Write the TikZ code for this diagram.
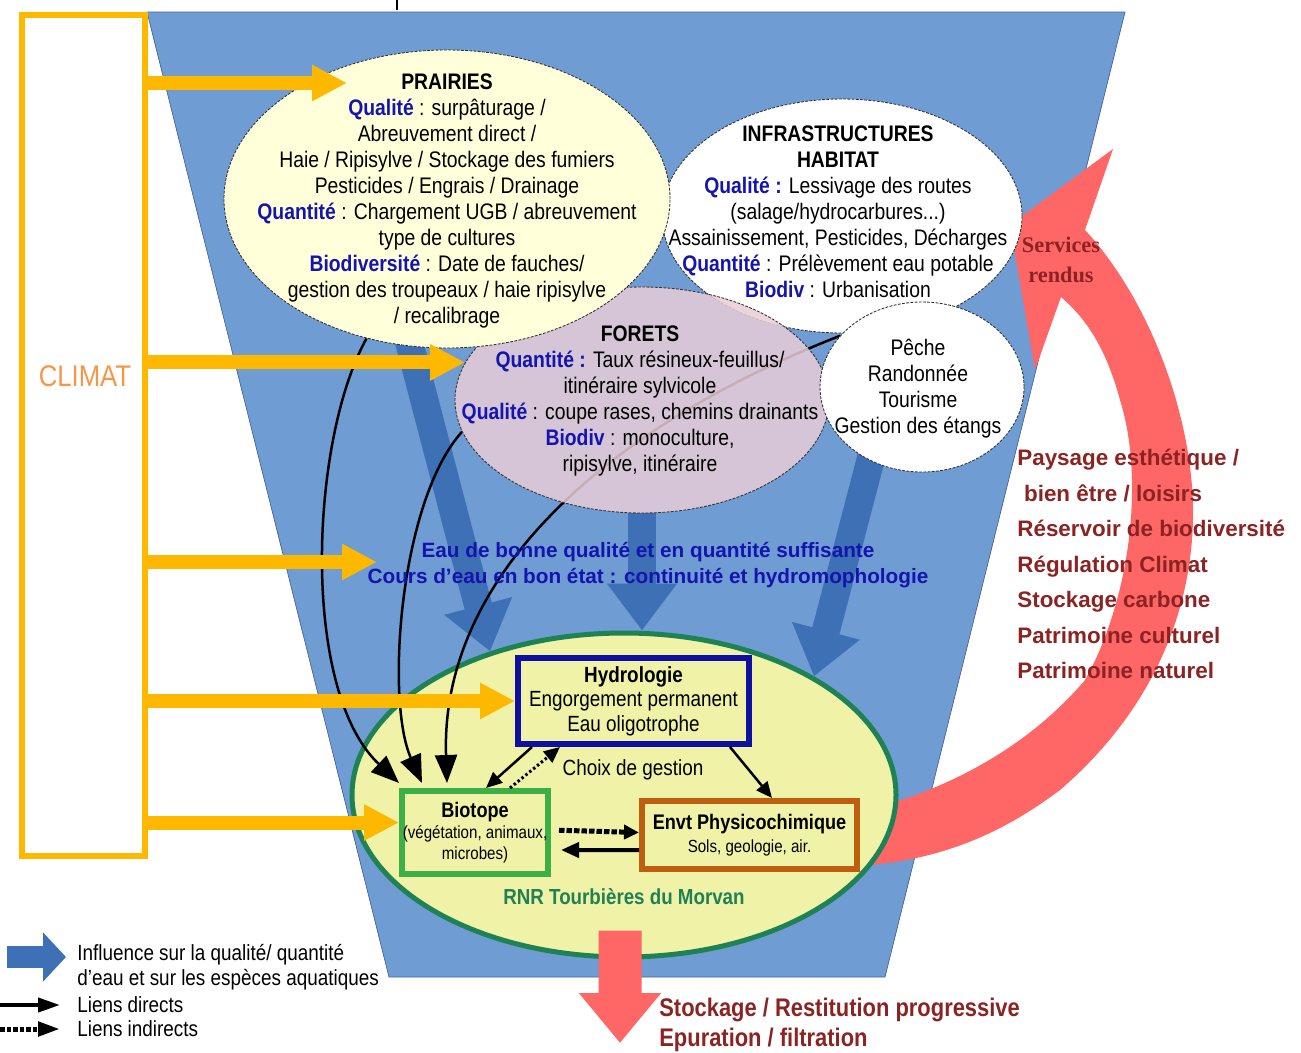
\documentclass[tikz,border=0pt]{standalone}
\usepackage{fontspec}
\setmainfont{Liberation Sans}[FakeStretch=0.86]
\newfontfamily\widesans{Liberation Sans}
\newfontfamily\servfont{Liberation Serif}
\usetikzlibrary{shapes.geometric,arrows.meta}

\pgfdeclarelayer{funnel}
\pgfdeclarelayer{flows}
\pgfdeclarelayer{basin}
\pgfdeclarelayer{links}
\pgfsetlayers{funnel,flows,basin,links,main}

\definecolor{funnel}{RGB}{111,156,210}
\definecolor{funnelline}{RGB}{70,100,150}
\definecolor{flow}{RGB}{62,112,182}
\definecolor{climat}{RGB}{255,184,0}
\definecolor{climattxt}{RGB}{247,150,70}
\definecolor{lab}{RGB}{20,20,175}
\definecolor{serv}{RGB}{255,102,102}
\definecolor{servtxt}{RGB}{140,35,35}
\definecolor{prairie}{RGB}{255,255,218}
\definecolor{foret}{RGB}{232,205,215}
\definecolor{tourbe}{RGB}{240,242,168}
\definecolor{tourbeline}{RGB}{30,130,85}
\definecolor{hydro}{RGB}{15,15,160}
\definecolor{bio}{RGB}{60,175,70}
\definecolor{envt}{RGB}{190,95,15}

\newcommand{\lbl}[1]{\textbf{\color{lab}#1}}

\begin{document}
\begin{tikzpicture}[x=0.2mm,y=-0.2mm,
  font=\fontsize{12.8}{14.8}\selectfont,
  zone/.style={ellipse,draw=black!80,line width=0.5pt,dash pattern=on 1.6pt off 0.8pt,inner sep=0pt},
  txt/.style={align=center,inner sep=0pt},
  box/.style={rectangle,fill=tourbe,line width=1.2mm,inner sep=0pt,align=center},
  climatarrow/.style={climat,line width=2.8mm,-{Triangle[width=6.8mm,length=7mm]}},
  flowarrow/.style={flow,line width=5.6mm,-{Triangle[width=13.4mm,length=9.4mm]}},
  feed/.style={line width=0.5mm,-{Triangle[width=4.4mm,length=5.6mm]}},
  link/.style={line width=0.5mm,-{Triangle[width=2.8mm,length=3.2mm]}},
  dotlink/.style={line width=0.6mm,dash pattern=on 0.5mm off 0.5mm,-{Triangle[width=2.8mm,length=3.2mm]}}]
  \useasboundingbox (0,0) rectangle (1301,1052);

  % pressures on the catchment
  \node[zone,fill=white,minimum width=72mm,minimum height=46.8mm] (infra) at (842,216) {};
  \node[txt] (infratxt) at (838,212) {\textbf{INFRASTRUCTURES}\\\textbf{HABITAT}\\
    \lbl{Qualité :} Lessivage des routes\\(salage/hydrocarbures...)\\
    Assainissement, Pesticides, Décharges\\\lbl{Quantité} : Prélèvement eau potable\\
    \lbl{Biodiv} : Urbanisation};
  \node[zone,fill=foret,fill opacity=0.85,minimum width=74.8mm,minimum height=45.2mm] (forets) at (642,400) {};
  \node[txt] (foretstxt) at (640,401) {\textbf{FORETS}\\\lbl{Quantité :} Taux résineux-feuillus/\\
    itinéraire sylvicole\\\lbl{Qualité} : coupe rases, chemins drainants\\
    \lbl{Biodiv} : monoculture,\\ripisylve, itinéraire};
  \node[zone,fill=prairie,minimum width=89.2mm,minimum height=59.6mm] (prairies) at (447,199) {};
  \node[txt] (prairiestxt) at (447,201) {\textbf{PRAIRIES}\\\lbl{Qualité} : surpâturage /\\
    Abreuvement direct /\\Haie / Ripisylve / Stockage des fumiers\\
    Pesticides / Engrais / Drainage\\\lbl{Quantité} : Chargement UGB / abreuvement\\
    type de cultures\\\lbl{Biodiversité} : Date de fauches/\\
    gestion des troupeaux / haie ripisylve\\/ recalibrage};
  \node[zone,fill=white,minimum width=40.8mm,minimum height=34mm] (peche) at (922,387) {};
  \node[txt] (pechetxt) at (918,389) {Pêche\\Randonnée\\Tourisme\\Gestion des étangs};

  % the peat bog
  \begin{pgfonlayer}{basin}
    \node[ellipse,draw=tourbeline,line width=1mm,fill=tourbe,inner sep=0pt,
      minimum width=108.8mm,minimum height=64.8mm] (rnr) at (624,795) {};
  \end{pgfonlayer}
  \node[box,draw=hydro,minimum width=46.2mm,minimum height=17.2mm,
    font=\fontsize{12.5}{14}\selectfont] (hydro) at (633.5,701)
    {\textbf{Hydrologie}\\Engorgement permanent\\Eau oligotrophe};
  \node[box,draw=bio,minimum width=29.2mm,minimum height=16.6mm,
    font=\fontsize{10}{12}\selectfont] (bio) at (475,832.5)
    {{\fontsize{12}{12}\selectfont\textbf{Biotope}}\\(végétation, animaux,\\microbes)};
  \node[box,draw=envt,minimum width=43mm,minimum height=13.6mm,
    font=\fontsize{10}{13}\selectfont] (envt) at (749.5,835)
    {{\fontsize{12}{13}\selectfont\textbf{Envt Physicochimique}}\\Sols, geologie, air.};
  \node[txt,font=\fontsize{12.5}{14}\selectfont] (choix) at (633,770) {Choix de gestion};
  \node[txt,text=tourbeline,font=\bfseries\fontsize{12.4}{14}\selectfont] (rnrlbl) at (624,897)
    {RNR Tourbières du Morvan};
  \node[txt,text=lab,font=\widesans\bfseries\fontsize{11.8}{14.8}\selectfont] (eau) at (648,565)
    {Eau de bonne qualité et en quantité suffisante\\Cours d’eau en bon état : continuité et hydromophologie};

  % background funnel and services
  \begin{pgfonlayer}{funnel}
    \filldraw[fill=funnel,draw=funnelline,line width=0.4pt]
      (147,12) -- (1125,12) -- (885,977) -- (389,977) -- cycle;
    \fill[serv] (1085,230) .. controls (1150,300) and (1195,420) .. (1193,520)
      .. controls (1190,640) and (1130,730) .. (1060,790)
      .. controls (1000,835) and (940,860) .. (860,866) -- (860,812)
      .. controls (950,790) and (1030,745) .. (1085,680)
      .. controls (1130,600) and (1145,480) .. (1120,400)
      .. controls (1105,345) and (1085,318) .. (1061,297)
      -- (1035,370) -- (1010,225) -- (1113,149) -- cycle;
  \end{pgfonlayer}
  \draw[line width=0.5mm] (397,0) -- (397,10);

  \begin{pgfonlayer}{flows}
    \draw[flowarrow,shorten <=-4mm] (prairies.-104) -- (rnr.133);
    \draw[flowarrow] (forets.south) -- (forets.south |- rnr.north);
    \draw[flowarrow,shorten <=-4mm] (peche.-125) -- (rnr.32);
  \end{pgfonlayer}

  \begin{pgfonlayer}{links}
    \draw[feed] (prairies.-120) .. controls (310,440) and (300,690) .. ([yshift=1mm]bio.north west);
    \draw[feed] (forets.-170) .. controls (400,500) and (385,700) .. ([xshift=4.6mm,yshift=1mm]bio.north west);
    \draw[feed] (peche.148) .. controls (600,430) and (440,580) .. ([xshift=9.6mm,yshift=1mm]bio.north west);
  \end{pgfonlayer}

  \draw[link] ([xshift=3.4mm]hydro.south west) -- ([xshift=2.2mm]bio.north);
  \draw[dotlink] ([xshift=7mm]bio.north) -- ([xshift=9mm]hydro.south west);
  \draw[link] ([xshift=-4.4mm]hydro.south east) -- ([xshift=4.5mm]envt.north);
  \draw[line width=1mm,dash pattern=on 1.1mm off 0.4mm,-{Triangle[width=2.8mm,length=3mm]},
    shorten <=1.6mm] ([yshift=0.5mm]bio.east) -- ([yshift=0.5mm]envt.west);
  \draw[line width=0.8mm,-{Triangle[width=3mm,length=3.6mm]},shorten >=2mm]
    ([yshift=-3mm]envt.west) -- ([yshift=-3.5mm]bio.east);

  % climate
  \node[draw=climat,line width=1.2mm,minimum width=24.6mm,minimum height=168.2mm,inner sep=0pt]
    (climatbox) at (83.5,435.5) {};
  \node[txt,text=climattxt,font=\fontsize{17}{20}\selectfont] (climat) at (85,376) {CLIMAT};
  \coordinate (inprairies) at (347,83);
  \coordinate (ineau) at (377,562);
  \coordinate (inbio) at ([yshift=2mm]bio.west);
  \foreach \tgt in {inprairies,forets.168,ineau,hydro.west,inbio}
    \draw[climatarrow] (climatbox.east |- \tgt) -- (\tgt);

  % services rendus
  \node[txt,text=servtxt,font=\servfont\bfseries\fontsize{12.7}{17}\selectfont] (rendus) at (1061,260)
    {Services\\rendus};
  \node[txt,anchor=west,align=left,text=servtxt,font=\widesans\bfseries\fontsize{12.75}{20.2}\selectfont]
    (benefits) at (1017,564) {Paysage esthétique /\\\hspace*{0.3em}bien être / loisirs\\
    Réservoir de biodiversité\\Régulation Climat\\Stockage carbone\\
    Patrimoine culturel\\Patrimoine naturel};
  \coordinate (outflow) at (620,1043);
  \draw[serv,line width=8.6mm,-{Triangle[width=15.8mm,length=10mm]}]
    ([xshift=-0.8mm,yshift=5.8mm]rnr.south) -- (outflow);
  \node[txt,anchor=west,align=left,text=servtxt,font=\bfseries\fontsize{14.5}{17}\selectfont]
    (stock) at (659,1025) {Stockage / Restitution progressive\\Epuration / filtration};

  % legend
  \node[txt,anchor=west,align=left,font=\fontsize{12.5}{14.2}\selectfont] (keyflowtxt) at (77,967)
    {Influence sur la qualité/ quantité\\d’eau et sur les espèces aquatiques};
  \node[txt,anchor=west,font=\fontsize{12.5}{14.2}\selectfont] (keydirtxt) at (77,1005) {Liens directs};
  \node[txt,anchor=west,font=\fontsize{12.5}{14.2}\selectfont] (keyindtxt) at (77,1029) {Liens indirects};
  \coordinate (keyflow) at (7,957);
  \draw[flow,line width=4.4mm,-{Triangle[width=9.6mm,length=4.6mm]},shorten >=2.2mm]
    (keyflow) -- (keyflow -| keyflowtxt.west);
  \draw[line width=0.8mm,-{Triangle[width=2.8mm,length=4.4mm]},shorten >=3.4mm]
    (0,0 |- keydirtxt.west) -- (keydirtxt.west);
  \draw[line width=1mm,dash pattern=on 0.9mm off 0.4mm,-{Triangle[width=2.8mm,length=4.4mm]},shorten >=3.4mm]
    (0,0 |- keyindtxt.west) -- (keyindtxt.west);
\end{tikzpicture}
\end{document}
